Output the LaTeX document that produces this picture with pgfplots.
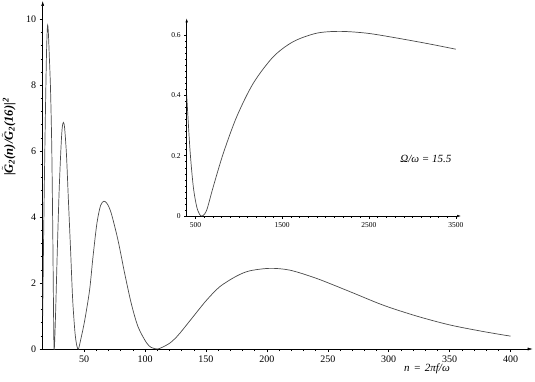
\documentclass[border=0pt]{standalone}
\usepackage{fontspec}
\setmainfont{Liberation Serif}
\usepackage{pgfplots}
\pgfplotsset{compat=1.18}
\usetikzlibrary{arrows.meta}
\definecolor{curve}{HTML}{4A4A4A}

\newcommand{\Gt}{\ensuremath{\tilde{\mbox{\textbf{\textit{G}}}}}}

\begin{document}
\begin{tikzpicture}
\useasboundingbox (-42.7pt,-32pt) rectangle (492.3pt,349pt);

% main plot
\begin{axis}[
  at={(0pt,0pt)}, anchor=south west,
  scale only axis, width=490pt, height=348pt,
  xmin=16, xmax=418.2, ymin=0, ymax=10.55,
  axis lines=left,
  axis line style={line width=0.5pt, -{Latex[length=5pt,width=3pt]}},
  tick align=outside,
  major tick length=3pt, minor tick length=2pt,
  xtick={50,100,...,400}, ytick={0,2,...,10},
  minor x tick num=4, minor y tick num=4,
  tick style={line width=0.4pt, black},
  tick label style={font=\fontsize{10}{12}\selectfont},
  /pgf/number format/assume math mode=true,
]
\addplot[curve, line width=0.7pt, smooth, tension=0.5] coordinates {
  (16,1.0) (16.8,3.5) (17.9,6.4) (19,8.76) (19.6,9.55) (20.1,9.82) (20.7,9.55)
  (21.4,8.9) (22.4,7.9) (23.4,6.2) (24.2,3.8) (24.8,1.5) (25.3,0)
  (26,0.4) (26.9,1.5) (28,3.0) (29.5,4.8) (31,6.1) (32,6.7) (33,6.87) (34,6.7)
  (35.5,5.9) (37,4.6) (39,2.9) (40.6,1.5) (42.5,0.5) (44,0.1) (45.3,0)
  (47,0.25) (50.4,0.85) (54.5,1.79) (57.3,2.8) (60.5,3.81) (63.5,4.35) (66.3,4.48)
  (69,4.4) (72.3,4.11) (77.8,3.30) (83.3,2.29) (88.7,1.38) (94.2,0.68) (101,0.2)
  (105,0.05) (110,0)
  (114,0.05) (120.4,0.18) (126,0.37) (131.3,0.6) (139.5,0.98) (150.5,1.48)
  (161.4,1.89) (175.1,2.21) (186,2.37) (202.5,2.445) (218.9,2.39) (240.8,2.14)
  (268.1,1.74) (295.4,1.33) (322.8,1.00) (350.1,0.73) (377.6,0.53) (400,0.39)
};
\end{axis}

% inset
\begin{axis}[
  at={(144pt,133pt)}, anchor=south west,
  scale only axis, width=274.3pt, height=197.6pt,
  xmin=400, xmax=3560, ymin=0, ymax=0.655,
  axis lines=left,
  axis line style={line width=0.5pt, -{Latex[length=4pt,width=2.5pt]}},
  tick align=outside,
  major tick length=2.5pt, minor tick length=1.5pt,
  xtick={500,1500,2500,3500}, ytick={0,0.2,0.4,0.6},
  minor x tick num=9, minor y tick num=9,
  tick style={line width=0.4pt, black},
  tick label style={font=\fontsize{7.5}{9}\selectfont},
  scaled ticks=false,
  /pgf/number format/1000 sep={},
  /pgf/number format/assume math mode=true,
]
\addplot[curve, line width=0.7pt, smooth, tension=0.5] coordinates {
  (400,0.40) (438,0.219) (476,0.097) (515,0.031) (550,0.005) (578,0) (610,0.008)
  (640,0.028) (706,0.097) (822,0.208) (976,0.329) (1167,0.44) (1398,0.528)
  (1628,0.578) (1898,0.606) (2166,0.612) (2474,0.606) (2780,0.592) (3165,0.572)
  (3500,0.553)
};
\end{axis}

\node[rotate=90, font=\fontsize{12.5}{14}\selectfont\bfseries\itshape]
  at (-34pt,212pt) {|\Gt\textsubscript{2}(n)/\Gt\textsubscript{2}(16)|\textsuperscript{2}};
\node[font=\fontsize{11}{13}\selectfont\itshape]
  at (384.3pt,-19.5pt) {n\hspace{0.35em}=\hspace{0.35em}2πf/ω};
\node[font=\fontsize{11}{13}\selectfont\itshape]
  at (383.1pt,189.7pt) {Ω/ω = 15.5};
\end{tikzpicture}
\end{document}
